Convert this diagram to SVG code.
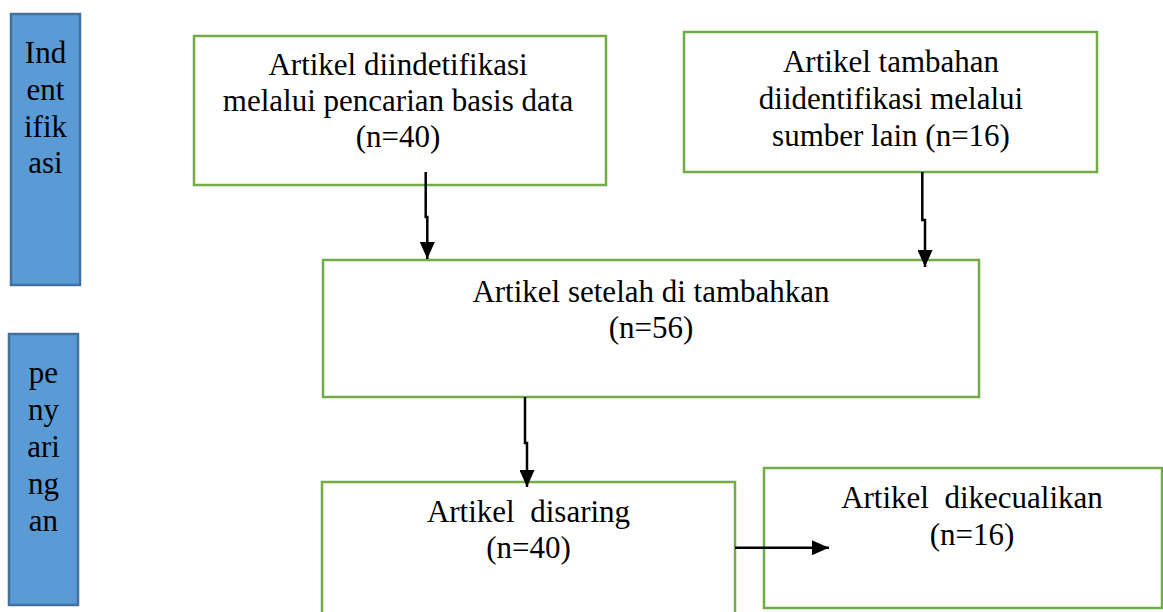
<svg xmlns="http://www.w3.org/2000/svg" width="1163" height="612" viewBox="0 0 1163 612">
<style>
.side{fill:#5B9BD5;stroke:#41719C;stroke-width:2.5}
.box{fill:#FFFFFF;stroke:#70AD47;stroke-width:2.5}
.t{font-family:"Liberation Serif","Times New Roman",serif;font-size:31px;fill:#000;text-anchor:middle}
.conn{fill:none;stroke:#000;stroke-width:2.5}
</style>
<defs>
<marker id="ah" viewBox="0 0 17 15" refX="17" refY="7.5" markerWidth="17" markerHeight="15" markerUnits="userSpaceOnUse" orient="auto">
<polygon points="0,0 17,7.5 0,15" fill="#000"/>
</marker>
</defs>
<rect width="1163" height="612" fill="#FFFFFF"/>
<g id="side-identifikasi">
<rect class="side" x="11" y="14" width="69" height="271"/>
<text class="t" x="45.5" y="63">Ind</text>
<text class="t" x="45.5" y="100">ent</text>
<text class="t" x="45.5" y="137">ifik</text>
<text class="t" x="45.5" y="173">asi</text>
</g>
<g id="side-penyaringan">
<rect class="side" x="9" y="334" width="69" height="271"/>
<text class="t" x="43.5" y="383">pe</text>
<text class="t" x="43.5" y="420">ny</text>
<text class="t" x="43.5" y="457">ari</text>
<text class="t" x="43.5" y="494">ng</text>
<text class="t" x="43.5" y="531">an</text>
</g>
<g id="node-database">
<rect class="box" x="194" y="36" width="412" height="149"/>
<text class="t" x="398" y="75">Artikel diindetifikasi</text>
<text class="t" x="398" y="111">melalui pencarian basis data</text>
<text class="t" x="398" y="147">(n=40)</text>
</g>
<g id="node-other">
<rect class="box" x="684" y="32" width="413" height="140"/>
<text class="t" x="891" y="72">Artikel tambahan</text>
<text class="t" x="891" y="109">diidentifikasi melalui</text>
<text class="t" x="891" y="146">sumber lain (n=16)</text>
</g>
<g id="node-added">
<rect class="box" x="323" y="260" width="656" height="137"/>
<text class="t" x="651" y="302">Artikel setelah di tambahkan</text>
<text class="t" x="651" y="338">(n=56)</text>
</g>
<g id="node-screened">
<rect class="box" x="322" y="482" width="413" height="140"/>
<text class="t" x="528.5" y="522" xml:space="preserve">Artikel  disaring</text>
<text class="t" x="528.5" y="558">(n=40)</text>
</g>
<g id="node-excluded">
<rect class="box" x="764" y="468" width="398" height="140"/>
<text class="t" x="972" y="508" xml:space="preserve">Artikel  dikecualikan</text>
<text class="t" x="972" y="545">(n=16)</text>
</g>
<g id="connectors">
<path class="conn" d="M425.7,172 V217 H427.3 V259" marker-end="url(#ah)"/>
<path class="conn" d="M922.3,172 V220 H925 V267" marker-end="url(#ah)"/>
<path class="conn" d="M525,397 V443 H527 V487" marker-end="url(#ah)"/>
<path class="conn" d="M735,547.7 H829" marker-end="url(#ah)"/>
</g>
</svg>
